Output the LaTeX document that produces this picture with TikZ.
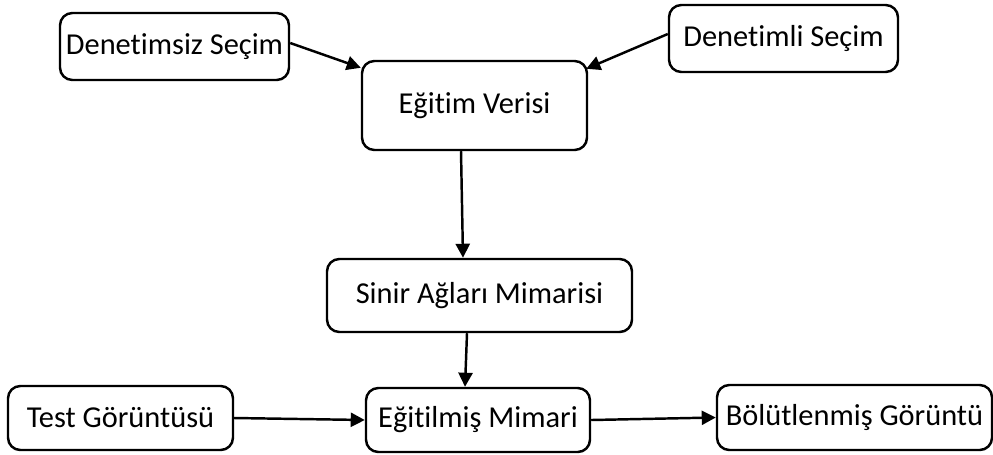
\documentclass[tikz,border=0pt]{standalone}
\usepackage{fontspec}
\setmainfont{Carlito}[Ligatures=NoCommon]
\usepackage{tikz}
\usetikzlibrary{arrows.meta}
\definecolor{BoxLine}{RGB}{0,0,0}
\tikzset{
  kutu/.style={draw=BoxLine,rounded corners=7pt,line width=1.4pt,inner sep=0pt,
               align=center,font=\fontsize{17.3}{20}\selectfont},
  ok/.style={line width=1.4pt,-{Triangle[length=8pt,width=8pt]}}
}

\begin{document}
\begin{tikzpicture}[x=0.02cm,y=-0.02cm]
    \useasboundingbox (0,0) rectangle (993,454);
    % ust satir
    \node[kutu,minimum width=229*0.02cm,minimum height=67*0.02cm] (ds) at (174.5,46.5) {Denetimsiz Seçim};
    \node[kutu,minimum width=229*0.02cm,minimum height=67*0.02cm] (dl) at (783.5,38.5) {Denetimli Seçim};
    \node[kutu,minimum width=225*0.02cm,minimum height=89*0.02cm] (ev) at (474.5,105.5) {Eğitim Verisi};
    % orta
    \node[kutu,minimum width=305*0.02cm,minimum height=73*0.02cm] (sam) at (479.5,295.5) {Sinir Ağları Mimarisi};
    % alt satir
    \node[kutu,minimum width=225*0.02cm,minimum height=64*0.02cm] (tg) at (120.5,418) {Test Görüntüsü};
    \node[kutu,minimum width=224*0.02cm,minimum height=64*0.02cm] (em) at (478,420) {Eğitilmiş Mimari};
    \node[kutu,minimum width=275*0.02cm,minimum height=65*0.02cm] (bg) at (854.5,417.5) {Bölütlenmiş Görüntü};

    \draw[ok] ([yshift=0.07cm]ds.east) -- ([yshift=-0.16cm]ev.north west);
    \draw[ok] ([yshift=0.09cm]dl.west) -- ([xshift=-0.04cm,yshift=-0.18cm]ev.north east);
    \draw[ok] ([xshift=-0.27cm]ev.south) -- ([xshift=-0.33cm]sam.north);
    \draw[ok] ([xshift=-0.25cm]sam.south) -- ([xshift=-0.26cm]em.north);
    \draw[ok] (tg.east) -- (em.west);
    \draw[ok] (em.east) -- (bg.west);
  \end{tikzpicture}
\end{document}
